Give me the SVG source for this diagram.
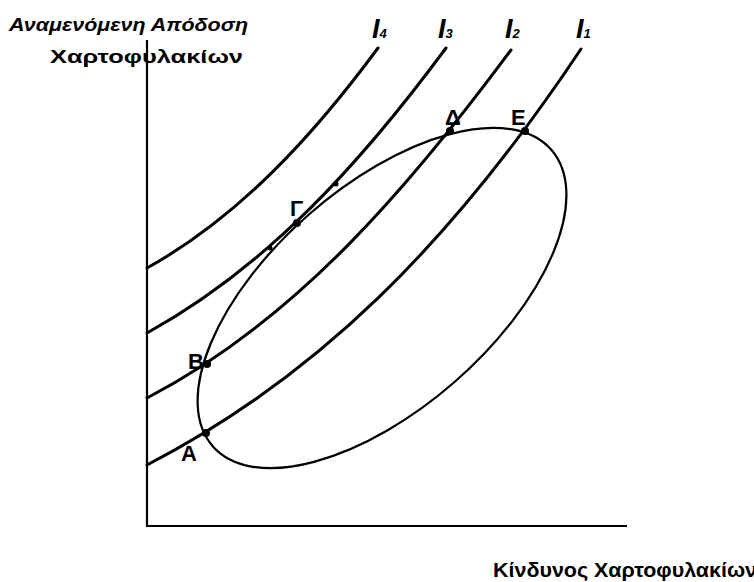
<svg xmlns="http://www.w3.org/2000/svg" width="754" height="582" viewBox="0 0 754 582">
<style>
.ax{stroke:#000;stroke-width:2.2;fill:none}
.ic{stroke:#000;stroke-width:3;fill:none;stroke-linecap:round}
.el{stroke:#000;stroke-width:2.2;fill:none}
.t{font-family:"Liberation Sans",Arial,sans-serif;font-weight:bold;fill:#000}
.pt{font-family:"Liberation Sans",Arial,sans-serif;font-weight:bold;font-size:22px;fill:#000}
.il{font-family:"Liberation Sans",Arial,sans-serif;font-weight:bold;font-style:italic;fill:#000}
</style>
<rect width="754" height="582" fill="#fff"/>
<g id="axes">
<line class="ax" x1="147" y1="40" x2="147" y2="527"/>
<line class="ax" x1="146" y1="526" x2="627" y2="526"/>
</g>
<g id="labels">
<text class="t" x="9" y="31" font-size="19" font-style="italic" textLength="239" lengthAdjust="spacingAndGlyphs">Αναμενόμενη Απόδοση</text>
<text class="t" x="50" y="63" font-size="19" textLength="193" lengthAdjust="spacingAndGlyphs">Χαρτοφυλακίων</text>
<text class="t" x="493" y="577" font-size="20" textLength="264" lengthAdjust="spacingAndGlyphs">Κίνδυνος Χαρτοφυλακίων</text>
</g>
<g id="connectors">
<path id="I1" class="ic" d="M147,465 C317,377 451,244 581,49"/>
<path id="I2" class="ic" d="M147,398 C297,320 411,185 511,50"/>
<path id="I3" class="ic" d="M147,333 C267,267 361,163 446,48"/>
<path id="I4" class="ic" d="M147,268 C239,217 313,136 378,48"/>
</g>
<g id="ellipse">
<ellipse class="el" cx="382" cy="298" rx="225" ry="111" transform="rotate(-41.2 382 298)"/>
</g>
<g id="curve-labels">
<text class="il" x="372" y="38" font-size="27">I<tspan font-size="13">4</tspan></text>
<text class="il" x="438" y="38" font-size="27">I<tspan font-size="13">3</tspan></text>
<text class="il" x="505" y="38" font-size="27">I<tspan font-size="13">2</tspan></text>
<text class="il" x="576" y="38" font-size="27">I<tspan font-size="13">1</tspan></text>
</g>
<g id="point-A"><circle cx="206" cy="433" r="4"/><text class="pt" x="181" y="461">Α</text></g>
<g id="point-B"><circle cx="207" cy="364" r="4"/><text class="pt" x="188" y="369">Β</text></g>
<g id="point-G"><circle cx="297" cy="223" r="4"/><text class="pt" x="290" y="216">Γ</text></g>
<g id="point-D"><circle cx="450" cy="131" r="4"/><text class="pt" x="445" y="125">Δ</text></g>
<g id="point-E"><circle cx="525" cy="131" r="4"/><text class="pt" x="511" y="125">Ε</text></g>
<g id="touch"><circle cx="270" cy="248" r="2.5"/><circle cx="336" cy="184" r="2.5"/></g>
</svg>
